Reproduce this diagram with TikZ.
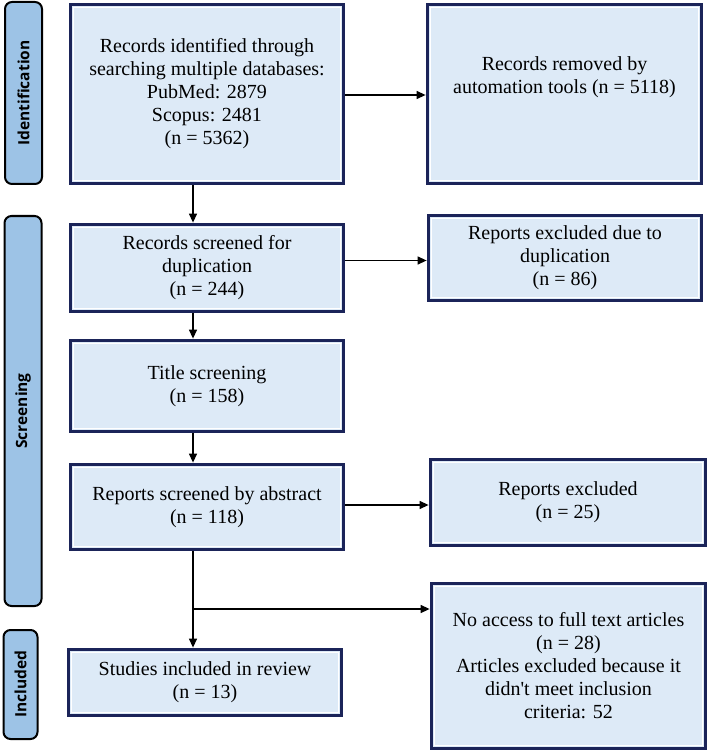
\documentclass[tikz,border=0pt]{standalone}
\usepackage{fontspec}
\setmainfont{Liberation Serif}
\newfontfamily\labfont{Open Sans}
\usetikzlibrary{arrows.meta}
\definecolor{navy}{HTML}{1B2459}
\definecolor{boxfill}{HTML}{DDEAF7}
\definecolor{labfill}{HTML}{9DC3E6}
\tikzset{
  x=1pt, y=-1pt,
  flowbox/.style={draw=navy, line width=3.8pt, fill=boxfill, align=center,
    inner sep=2pt, font=\fontsize{20}{23}\selectfont,
    path picture={\draw[white, line width=1pt]
      ([shift={(2.7pt,-2.7pt)}]path picture bounding box.north west) rectangle
      ([shift={(-2.7pt,2.7pt)}]path picture bounding box.south east);}},
  sidelab/.style={draw=black, line width=2pt, fill=labfill, rounded corners=7pt,
    rotate=90, font=\labfont\bfseries\fontsize{15.5}{18}\selectfont, inner sep=0pt},
  arr/.style={draw=black, line width=1.3pt, -{Triangle[length=9pt,width=8pt]}},
  plain/.style={draw=black, line width=1.3pt}
}
\begin{document}
\begin{tikzpicture}
\useasboundingbox (0,0) rectangle (709,751);

% side labels
\node[sidelab, minimum width=182pt, minimum height=37pt] (L1) at (23.5,93) {Identification};
\node[sidelab, minimum width=390pt, minimum height=37pt] (L2) at (23,411) {Screening};
\node[sidelab, minimum width=109pt, minimum height=34pt] (L3) at (20.5,684.5) {Included};

% boxes
\node[flowbox, minimum width=273pt, minimum height=179pt] (B1) at (207,94)
  {Records identified through\\searching multiple databases:\\PubMed: 2879\\Scopus: 2481\\(n = 5362)};
\node[flowbox, minimum width=274pt, minimum height=179pt] (B2) at (564.5,94)
  {Records removed by\\automation tools (n = 5118)\\[14pt]};
\node[flowbox, minimum width=273pt, minimum height=87pt] (B3) at (207,268)
  {Records screened for\\duplication\\(n = 244)};
\node[flowbox, minimum width=273pt, minimum height=85pt] (B4) at (565,258)
  {Reports excluded due to\\duplication\\(n = 86)};
\node[flowbox, minimum width=273pt, minimum height=91pt] (B5) at (207,386)
  {Title screening\\(n = 158)};
\node[flowbox, minimum width=273pt, minimum height=85pt] (B6) at (207,507)
  {Reports screened by abstract\\(n = 118)};
\node[flowbox, minimum width=275pt, minimum height=86pt] (B7) at (568,502.5)
  {Reports excluded\\(n = 25)};
\node[flowbox, minimum width=273pt, minimum height=66pt] (B8) at (205,682.5)
  {Studies included in review\\(n = 13)};
\node[flowbox, minimum width=274pt, minimum height=165pt] (B9) at (568.5,666)
  {No access to full text articles\\(n = 28)\\Articles excluded because it\\didn\textquotesingle t meet inclusion\\criteria: 52};

% connector helpers
\coordinate (v) at (193,0);
\coordinate (h1) at (0,95);
\coordinate (h2) at (0,260.5);
\coordinate (h3) at (0,505);
\coordinate (h4) at (0,609);
\coordinate (br) at (193,609);

% connectors
\draw[arr] (B1.south -| v) -- (B3.north -| v);
\draw[arr] (B3.south -| v) -- (B5.north -| v);
\draw[arr] (B5.south -| v) -- (B6.north -| v);
\draw[arr] (B6.south -| v) -- (B8.north -| v);
\draw[arr] (B1.east |- h1) -- (B2.west |- h1);
\draw[arr] (B3.east |- h2) -- (B4.west |- h2);
\draw[arr] (B6.east |- h3) -- (B7.west |- h3);
\draw[arr] (br) -- (B9.west |- h4);
\end{tikzpicture}
\end{document}
